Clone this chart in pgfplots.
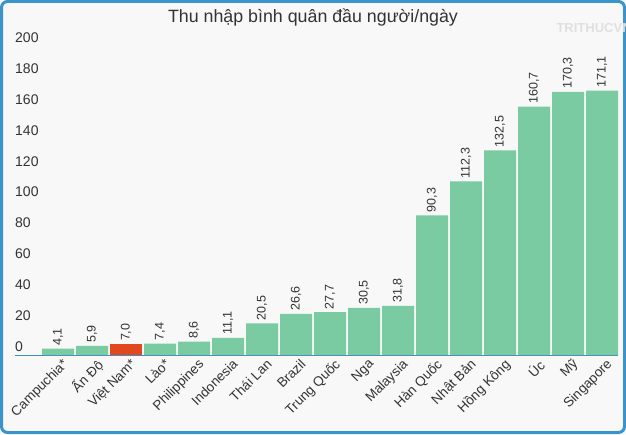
\documentclass[border=0pt]{standalone}
\usepackage{fontspec}
\setmainfont{Liberation Sans}
\usepackage{pgfplots}
\pgfplotsset{compat=1.18}
\definecolor{barg}{HTML}{7BCBA2}
\definecolor{barr}{HTML}{E0491F}
\definecolor{frameblue}{HTML}{3B93CC}
\definecolor{axblue}{HTML}{3A8FC4}
\definecolor{bgc}{HTML}{F8F8F8}
\definecolor{txt}{HTML}{333333}

\begin{document}
\begin{tikzpicture}
\useasboundingbox (0pt,0pt) rectangle (626pt,434pt);
\fill[bgc] (0pt,0pt) rectangle (626pt,434pt);
\draw[frameblue, line width=3pt, rounded corners=6pt] (1.5pt,1.5pt) rectangle (624.5pt,432.5pt);
\node[font=\fontsize{17.8}{20}\selectfont, text=txt] at (313pt,416pt) {Thu nhập bình quân đầu người/ngày};
\node[font=\bfseries\fontsize{13}{14}\selectfont, text=black!12, anchor=west] at (553pt,406pt) {TRITHUCVN};

\begin{axis}[
  at={(15pt,79pt)}, anchor=south west,
  width=603pt, height=309pt, scale only axis,
  xmin=-1.265, xmax=16.47,
  ymin=0, ymax=200,
  ytick={0,20,...,200},
  xtick={0,...,16},
  xticklabels={Campuchia*,Ấn Độ,Việt Nam*,Lào*,Philippines,Indonesia,Thái Lan,Brazil,Trung Quốc,Nga,Malaysia,Hàn Quốc,Nhật Bản,Hồng Kông,Úc,Mỹ,Singapore},
  axis x line*=bottom, axis y line*=left,
  y axis line style={draw=none},
  x axis line style={axblue, line width=1pt},
  major tick length=0pt,
  /pgf/number format/assume math mode=true,
  yticklabel style={anchor=base west, inner xsep=0pt, yshift=3.5pt, text=txt,
    font=\fontsize{14}{15}\selectfont},
  xticklabel style={rotate=45, anchor=north east, inner sep=1pt, text=txt,
    xshift=1.5pt, yshift=-3.5pt, font=\fontsize{13.5}{15}\selectfont},
  ybar, bar width=32pt, bar shift=0pt,
  point meta=explicit symbolic,
  nodes near coords,
  nodes near coords style={rotate=90, anchor=west, inner xsep=3pt, text=txt,
    font=\fontsize{12.5}{13}\selectfont},
]
\addplot[fill=barg, draw=none] table[meta=lab] {
x y lab
0 4.1 4,1
1 5.9 5,9
3 7.4 7,4
4 8.6 8,6
5 11.1 11,1
6 20.5 20,5
7 26.6 26,6
8 27.7 27,7
9 30.5 30,5
10 31.8 31,8
11 90.3 90,3
12 112.3 112,3
13 132.5 132,5
14 160.7 160,7
15 170.3 170,3
16 171.1 171,1
};
\addplot[fill=barr, draw=none] table[meta=lab] {
x y lab
2 7.0 7,0
};
\end{axis}
\end{tikzpicture}
\end{document}
